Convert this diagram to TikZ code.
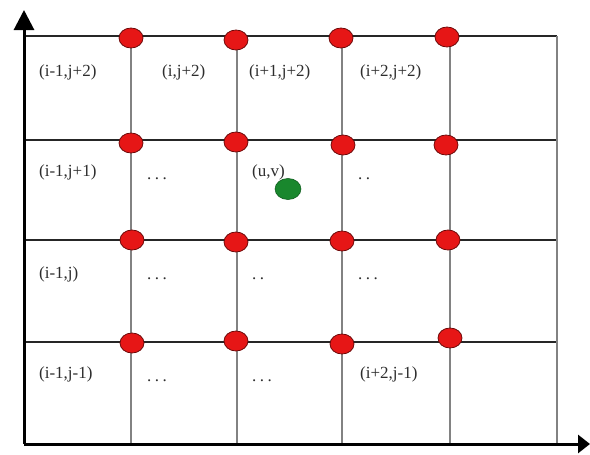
\documentclass[tikz,border=0pt]{standalone}
\usepackage{fontspec}
\setmainfont{Liberation Serif}
\usetikzlibrary{arrows.meta,shapes.geometric}
\definecolor{dotred}{RGB}{230,22,22}
\definecolor{dotedge}{RGB}{110,10,10}
\definecolor{dotgreen}{RGB}{25,135,45}
\definecolor{gridgray}{RGB}{130,130,130}
\definecolor{textgray}{RGB}{45,45,45}
\tikzset{
  reddot/.style={ellipse,fill=dotred,draw=dotedge,line width=0.8pt,minimum width=24pt,minimum height=20pt,inner sep=0pt},
  greendot/.style={ellipse,fill=dotgreen,draw=dotgreen!70!black,line width=0.6pt,minimum width=26pt,minimum height=21pt,inner sep=0pt},
  hline/.style={draw=black!85,line width=2pt},
  vline/.style={draw=gridgray,line width=1.6pt},
  yaxis/.style={draw=black,line width=3pt,-{Triangle[width=20pt,length=20pt]}},
  xaxis/.style={draw=black,line width=3pt,-{Triangle[width=18pt,length=12pt]}},
  lbl/.style={anchor=base west,inner sep=0pt,text=textgray,font=\fontsize{17}{17}\selectfont},
}
\newcommand{\mytdots}{.\kern3.5pt.\kern3.5pt.}
\newcommand{\myddots}{.\kern3.5pt.}
\begin{document}
\begin{tikzpicture}[x=1pt,y=-1pt]
\useasboundingbox (0,0) rectangle (590,455);
% grid
\foreach \yy in {36,140,240,342} \draw[hline] (24,\yy) -- (557,\yy);
\foreach \xx in {131,237,342,450,557} \draw[vline] (\xx,36) -- (\xx,444);
% axes
\coordinate (O) at (24,444);
\coordinate (ytip) at (24,10);
\coordinate (xtip) at (590,444);
\draw[yaxis] (O) -- (ytip);
\draw[xaxis] (O) -- (xtip);
% red dots
\node[reddot] (d11) at (131,38) {};
\node[reddot] (d12) at (236,40) {};
\node[reddot] (d13) at (341,38) {};
\node[reddot] (d14) at (447,37) {};
\node[reddot] (d21) at (131,143) {};
\node[reddot] (d22) at (236,142) {};
\node[reddot] (d23) at (343,145) {};
\node[reddot] (d24) at (446,145) {};
\node[reddot] (d31) at (132,240) {};
\node[reddot] (d32) at (236,242) {};
\node[reddot] (d33) at (342,241) {};
\node[reddot] (d34) at (448,240) {};
\node[reddot] (d41) at (132,343) {};
\node[reddot] (d42) at (236,341) {};
\node[reddot] (d43) at (342,344) {};
\node[reddot] (d44) at (450,338) {};
% green dot
\node[greendot] (uv) at (288,189) {};
% labels row 1
\node[lbl] (l11) at (39,76) {(i-1,j+2)};
\node[lbl] (l12) at (162,76) {(i,j+2)};
\node[lbl] (l13) at (249,76) {(i+1,j+2)};
\node[lbl] (l14) at (360,76) {(i+2,j+2)};
% row 2
\node[lbl] (l21) at (39,176) {(i-1,j+1)};
\node[lbl] (l22) at (147,179) {\mytdots};
\node[lbl] (l23) at (252,176) {(u,v)};
\node[lbl] (l24) at (358,179) {\myddots};
% row 3
\node[lbl] (l31) at (39,278) {(i-1,j)};
\node[lbl] (l32) at (147,279) {\mytdots};
\node[lbl] (l33) at (252,279) {\myddots};
\node[lbl] (l34) at (358,279) {\mytdots};
% row 4
\node[lbl] (l41) at (39,378) {(i-1,j-1)};
\node[lbl] (l42) at (147,381) {\mytdots};
\node[lbl] (l43) at (252,381) {\mytdots};
\node[lbl] (l44) at (360,378) {(i+2,j-1)};
\end{tikzpicture}
\end{document}
